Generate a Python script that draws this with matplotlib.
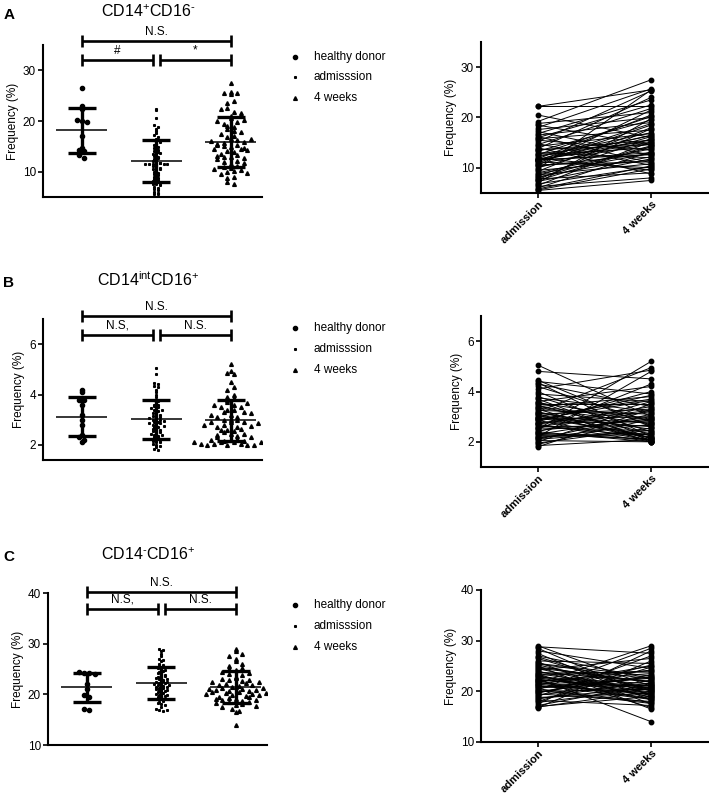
import matplotlib
matplotlib.use('Agg')
import matplotlib.pyplot as plt
import numpy as np
from matplotlib.lines import Line2D

plt.rcParams['font.family'] = ['Liberation Sans', 'DejaVu Sans']
plt.rcParams['mathtext.fontset'] = 'custom'
plt.rcParams['mathtext.rm'] = 'Liberation Sans'
plt.rcParams['mathtext.it'] = 'Liberation Sans:italic'
plt.rcParams['mathtext.bf'] = 'Liberation Sans:bold'
plt.rcParams['mathtext.default'] = 'regular'

# ---------------- data ----------------
groups = ["healthy donor", "admisssion", "4 weeks"]
pair_labels = ["admission", "4 weeks"]

a_healthy = [26.5, 23.0, 22.3, 20.2, 20.0, 19.8, 17.0, 14.6, 14.2, 14.0, 13.3, 12.7]
a_admission = [22.3, 22.2, 20.5, 19.2, 18.8, 18.5, 18.0, 17.6, 17.2, 16.8, 16.5, 16.2, 16.0,
               15.8, 15.5, 15.2, 14.8, 14.6, 14.3, 14.0, 13.8, 13.5, 13.3, 13.0, 12.8, 12.5,
               12.2, 12.0, 11.8, 11.6, 11.5, 11.5, 11.4, 11.2, 11.0, 10.8, 10.5, 10.3, 10.0,
               9.8, 9.5, 9.3, 9.0, 8.8, 8.6, 8.4, 8.2, 8.0, 7.8, 7.6, 7.5, 7.3, 7.0, 6.8,
               6.5, 6.3, 6.0, 5.8, 5.6, 5.5, 11.7, 11.6, 11.5, 10.6, 12.6, 13.6]
a_4weeks = [22.3, 25.5, 16.0, 27.5, 21.0, 14.5, 25.7, 20.0, 12.5, 23.5, 19.0, 11.0, 22.5,
            17.5, 13.5, 25.3, 10.5, 21.8, 16.8, 8.8, 24.0, 15.5, 19.5, 12.0, 15.2, 14.0,
            17.0, 9.5, 20.5, 15.0, 13.0, 15.6, 16.5, 10.0, 18.5, 14.8, 21.5, 12.8, 16.2,
            25.5, 11.5, 18.0, 13.8, 12.9, 10.8, 15.8, 12.2, 14.4, 9.0, 17.8, 14.2, 11.8,
            19.8, 10.2, 15.2, 8.0, 13.2, 10.4, 9.8, 7.5, 16.4, 12.6, 18.8, 11.2, 20.2, 14.6]

b_healthy = [4.2, 4.1, 3.8, 3.8, 3.6, 3.2, 3.0, 2.8, 2.4, 2.3, 2.2, 2.1]
b_admission = [5.05, 4.80, 4.45, 4.40, 4.35, 4.30, 4.20, 4.10, 4.00, 3.90, 3.80, 3.75, 3.70,
               3.60, 3.55, 3.50, 3.45, 3.40, 3.35, 3.30, 3.25, 3.20, 3.15, 3.10, 3.05, 3.00,
               2.95, 2.90, 2.85, 2.80, 2.75, 2.70, 2.65, 2.60, 2.55, 2.50, 2.45, 2.40, 2.35,
               2.30, 2.25, 2.20, 2.15, 2.10, 2.05, 2.00, 1.95, 1.90, 1.85, 1.80, 3.00, 2.95,
               3.10, 2.85, 2.70, 2.60, 3.20, 2.50, 2.40, 2.90, 2.20, 3.40, 2.30, 2.75, 2.10, 3.60]
b_4weeks = [3.0, 4.5, 2.6, 3.9, 2.2, 3.4, 2.8, 4.85, 2.1, 3.6, 2.4, 3.2, 2.05, 4.2, 2.9, 3.5,
            2.3, 3.8, 2.7, 2.0, 3.1, 4.95, 2.5, 3.3, 2.15, 3.7, 2.6, 3.0, 2.05, 4.0, 2.8, 3.4,
            2.2, 3.2, 2.45, 5.2, 2.9, 3.6, 2.1, 3.0, 2.35, 4.8, 2.7, 3.1, 2.0, 3.5, 2.55, 2.9,
            2.1, 3.3, 2.75, 2.25, 2.05, 3.85, 2.0, 2.65, 2.15, 4.3, 2.0, 3.65, 2.3, 2.85, 2.1,
            3.25, 2.45, 2.05]

c_healthy = [24.5, 24.3, 24.2, 24.0, 21.0, 22.0, 19.8, 19.5, 17.2, 17.0]
c_admission = [29.0, 28.8, 28.5, 28.0, 27.5, 27.0, 26.5, 26.0, 25.8, 25.5, 25.2, 25.0, 24.8,
               24.5, 24.2, 24.0, 23.8, 23.5, 23.2, 23.0, 22.8, 22.5, 22.3, 22.0, 21.8, 21.5,
               21.3, 21.0, 20.8, 20.5, 20.3, 20.0, 19.8, 19.5, 19.3, 19.0, 18.8, 18.5, 18.2,
               18.0, 17.8, 17.5, 17.2, 17.0, 16.8, 16.9, 22.0, 21.6, 22.6, 23.4, 20.6, 21.2,
               24.6, 19.6, 22.2, 21.4, 23.6, 20.2, 25.4, 18.6, 21.9, 22.4, 20.9, 23.1, 19.9, 26.8]
c_4weeks = [21.0, 27.5, 19.0, 24.5, 18.2, 22.5, 20.0, 25.5, 17.5, 23.0, 20.5, 16.5, 21.8,
            19.5, 26.5, 18.8, 22.0, 20.2, 24.0, 19.2, 21.5, 14.0, 20.8, 23.5, 18.5, 21.2,
            25.0, 19.8, 22.8, 17.8, 28.5, 20.4, 23.2, 18.0, 21.6, 27.0, 19.6, 22.2, 17.2,
            24.8, 20.6, 28.0, 21.4, 19.0, 26.0, 20.0, 18.6, 29.0, 21.0, 16.8, 22.6, 18.4,
            21.8, 25.2, 20.6, 19.4, 23.8, 17.6, 22.4, 20.8, 24.2, 19.9, 21.2, 18.9, 22.9, 20.2]

titles = ["CD14$^{+}$CD16$^{\u2010}$", "CD14$^{int}$CD16$^{+}$", "CD14$^{\u2010}$CD16$^{+}$"]
letters = ["A", "B", "C"]
sig_top = ["N.S.", "N.S.", "N.S."]
sig_left = ["#", "N.S,", "N.S,"]
sig_right = ["*", "N.S.", "N.S."]
yticks_left = [[10, 20, 30], [2, 4, 6], [10, 20, 30, 40]]
yticks_right = [[10, 20, 30], [2, 4, 6], [10, 20, 30, 40]]

# ---------------- layout ----------------
W, H = 709, 796
fig = plt.figure(figsize=(W / 100, H / 100), dpi=100)


def box(x0, x1, y0, y1):
    return [x0 / W, 1 - y1 / H, (x1 - x0) / W, (y1 - y0) / H]


panels = [
    dict(data=(a_healthy, a_admission, a_4weeks), lbox=(43, 262, 45, 197), rbox=(481, 708, 42, 193),
         lylim=(5, 35), rylim=(5, 35), bars=(35.7, 32.0), bins=(1.0, 0.5, 1.0),
         title_y=12, letter_y=15, leg_y=(57, 77, 98)),
    dict(data=(b_healthy, b_admission, b_4weeks), lbox=(43, 262, 319, 460), rbox=(481, 708, 316, 467),
         lylim=(1.4, 7), rylim=(1, 7), bars=(7.1, 6.36), bins=(0.2, 0.1, 0.2),
         title_y=280, letter_y=283, leg_y=(328, 349, 370)),
    dict(data=(c_healthy, c_admission, c_4weeks), lbox=(48, 267, 593, 745), rbox=(481, 708, 590, 742),
         lylim=(10, 40), rylim=(10, 40), bars=(40.2, 36.8), bins=(1.0, 0.5, 1.0),
         title_y=555, letter_y=557, leg_y=(605, 626, 647)),
]

markers = [dict(marker='o', ms=3.0), dict(marker='s', ms=1.2), dict(marker='^', ms=2.7)]
dxs = [0.07, 0.05, 0.09]


def swarm(values, center, bin_units, dx):
    values = np.asarray(values, dtype=float)
    keys = np.round(values / bin_units).astype(int)
    xs = np.zeros(len(values))
    for k in np.unique(keys):
        idx = np.where(keys == k)[0]
        n = len(idx)
        xs[idx] = center + (np.arange(n) - (n - 1) / 2) * dx
    return xs


def style(ax):
    for s in ['top', 'right']:
        ax.spines[s].set_visible(False)
    for s in ['left', 'bottom']:
        ax.spines[s].set_linewidth(1.5)
    ax.tick_params(direction='out', length=3.5, width=1.2, labelsize=8.5, pad=1.5)


def sig(ax, x0, x1, y, text):
    ax.plot([x0, x1], [y, y], color='k', lw=1.9, marker='|', ms=9, mew=1.9, clip_on=False,
            solid_capstyle='butt')
    ax.annotate(text, ((x0 + x1) / 2, y), xytext=(0, 2.5), textcoords='offset points',
                ha='center', va='bottom', fontsize=8.5, annotation_clip=False)


for i, p in enumerate(panels):
    # ----- left scatter panel -----
    ax = fig.add_axes(box(*p['lbox']))
    style(ax)
    ax.set_xlim(-0.52, 2.42)
    ax.set_ylim(*p['lylim'])
    ax.set_xticks([])
    ax.set_yticks(yticks_left[i])
    ax.set_ylabel("Frequency (%)", fontsize=8.5, labelpad=3)
    for g, vals in enumerate(p['data']):
        xs = swarm(vals, g, p['bins'][g], dxs[g])
        ax.plot(xs, vals, ls='none', color='k', mec='k', **markers[g])
        m = np.mean(vals)
        sd = np.std(vals, ddof=1)
        ax.hlines(m, g - 0.34, g + 0.34, color='k', lw=1.1)
        ax.vlines(g, m - sd, m + sd, color='k', lw=2.4)
        ax.hlines([m - sd, m + sd], g - 0.19, g + 0.19, color='k', lw=2.4)
    sig(ax, 0, 2, p['bars'][0], sig_top[i])
    sig(ax, 0, 0.95, p['bars'][1], sig_left[i])
    sig(ax, 1.05, 2, p['bars'][1], sig_right[i])

    fig.text(148 / W, 1 - p['title_y'] / H, titles[i], ha='center', va='center', fontsize=11.5)
    fig.text(9 / W, 1 - p['letter_y'] / H, letters[i], ha='center', va='center', fontsize=11,
             fontweight='bold')

    # ----- legend -----
    for g in range(3):
        yy = 1 - p['leg_y'][g] / H
        fig.add_artist(Line2D([295 / W], [yy], transform=fig.transFigure, ls='none', color='k',
                              **markers[g]))
        fig.text(314 / W, yy, groups[g], ha='left', va='center', fontsize=8.5)

    # ----- right paired panel -----
    axr = fig.add_axes(box(*p['rbox']))
    style(axr)
    axr.set_xlim(-0.5, 1.5)
    axr.set_ylim(*p['rylim'])
    axr.set_yticks(yticks_right[i])
    axr.set_xticks([0, 1])
    axr.set_xticklabels(pair_labels, rotation=45, ha='right', rotation_mode='anchor',
                        fontweight='bold', fontsize=8)
    axr.tick_params(axis='x', pad=1)
    axr.set_ylabel("Frequency (%)", fontsize=8.5, labelpad=3)
    adm = np.asarray(p['data'][1])
    w4 = np.asarray(p['data'][2])
    xx = np.vstack([np.zeros(len(adm)), np.ones(len(w4))])
    yy = np.vstack([adm, w4])
    axr.plot(xx, yy, color='k', lw=0.7, marker='o', ms=3.2)

fig.savefig("out.png", dpi=100)
